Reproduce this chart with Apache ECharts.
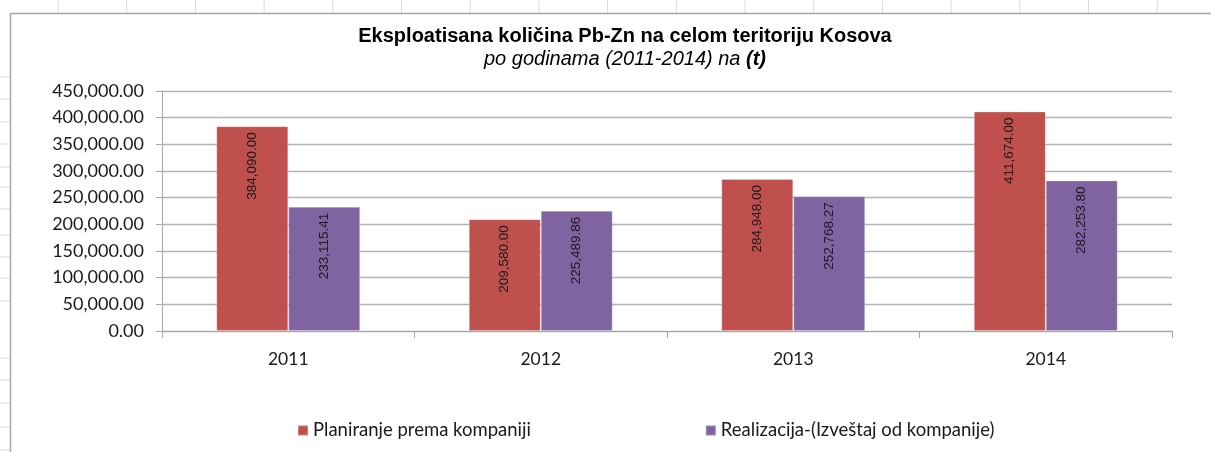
<!DOCTYPE html>
<html>
<head>
<meta charset="utf-8">
<script src="https://cdn.jsdelivr.net/npm/echarts@6/dist/echarts.min.js"></script>
<style>
html,body{margin:0;padding:0;background:#fff;}
#chart{width:1211px;height:452px;}
</style>
</head>
<body>
<div id="chart"></div>
<script>
const categories = ['2011', '2012', '2013', '2014'];
const planiranje = [384090.00, 209580.00, 284948.00, 411674.00];
const realizacija = [233115.41, 225489.86, 252768.27, 282253.80];
const seriesNames = ['Planiranje prema kompaniji', 'Realizacija-(Izveštaj od kompanije)'];
const yTicks = { min: 0, max: 450000, interval: 50000 };

function fmt(v) {
  return Number(v).toLocaleString('en-US', { minimumFractionDigits: 2, maximumFractionDigits: 2 });
}

// decorative spreadsheet cell marks around the chart frame
const deco = [];
for (let k = 0; k < 18; k++) {
  const x = 58 + 68.7 * k;
  deco.push({ type: 'line', shape: { x1: x, y1: 0, x2: x, y2: 13 }, style: { stroke: '#d9d9d9', lineWidth: 1 }, silent: true });
}
const leftRows = [77, 99, 122, 144, 167, 187, 209, 235, 257, 278, 301, 358, 380, 403, 427, 450];
leftRows.forEach(y => {
  deco.push({ type: 'line', shape: { x1: 0, y1: y, x2: 10, y2: y }, style: { stroke: '#d9d9d9', lineWidth: 1 }, silent: true });
});
deco.push({ type: 'polyline', shape: { points: [[10.5, 460], [10.5, 13.5], [1215, 13.5]] }, style: { stroke: '#a6a6a6', lineWidth: 1.5, fill: null }, silent: true });

const labelStyle = {
  show: true,
  position: 'insideTop',
  rotate: 90,
  align: 'right',
  verticalAlign: 'middle',
  distance: 6,
  fontFamily: 'Liberation Sans, Arial, sans-serif',
  fontSize: 13.5,
  color: '#1a1a1a',
  formatter: p => fmt(p.value)
};

const chart = echarts.init(document.getElementById('chart'), null, { renderer: 'canvas' });
chart.setOption({
  backgroundColor: '#ffffff',
  animation: false,
  graphic: deco,
  title: {
    text: 'Eksploatisana količina Pb-Zn na celom teritoriju Kosova',
    subtext: '{i|po godinama (2011-2014) na }{b|(t)}',
    left: 625,
    textAlign: 'center',
    top: 26,
    itemGap: 3,
    padding: 0,
    textStyle: { fontFamily: 'Liberation Sans, Arial, sans-serif', fontWeight: 'bold', fontSize: 20, color: '#000' },
    subtextStyle: {
      fontFamily: 'Liberation Sans, Arial, sans-serif', fontSize: 20, color: '#000',
      rich: {
        i: { fontFamily: 'Liberation Sans, Arial, sans-serif', fontStyle: 'italic', fontSize: 20, color: '#000' },
        b: { fontFamily: 'Liberation Sans, Arial, sans-serif', fontStyle: 'italic', fontWeight: 'bold', fontSize: 20, color: '#000' }
      }
    }
  },
  legend: {
    data: seriesNames,
    left: 292,
    top: 416,
    icon: 'rect',
    itemWidth: 10,
    itemHeight: 10,
    itemGap: 174,
    textStyle: { fontFamily: 'Lato, sans-serif', fontSize: 18.5, color: '#1a1a1a' }
  },
  grid: { left: 162, right: 39, top: 91, height: 240, containLabel: false },
  xAxis: {
    type: 'category',
    data: categories,
    axisLine: { lineStyle: { color: '#a6a6a6', width: 1 } },
    axisTick: { show: true, length: 7, lineStyle: { color: '#a6a6a6' }, alignWithLabel: false },
    axisLabel: { fontFamily: 'Lato, sans-serif', fontSize: 17.5, color: '#1a1a1a', margin: 19 }
  },
  yAxis: {
    type: 'value',
    min: yTicks.min,
    max: yTicks.max,
    interval: yTicks.interval,
    axisLine: { show: true, lineStyle: { color: '#a6a6a6' } },
    axisTick: { show: true, length: 6, lineStyle: { color: '#a6a6a6' } },
    splitLine: { lineStyle: { color: '#b3b3b3', width: 1.3 } },
    axisLabel: { fontFamily: 'Lato, sans-serif', fontSize: 18, color: '#1a1a1a', margin: 18, formatter: v => fmt(v) }
  },
  series: [
    {
      name: seriesNames[0], type: 'bar', data: planiranje,
      barGap: '0%', barCategoryGap: '43%',
      itemStyle: { color: '#C0504D', borderColor: 'rgba(255,255,255,0.25)', borderWidth: 1 },
      label: labelStyle
    },
    {
      name: seriesNames[1], type: 'bar', data: realizacija,
      barGap: '0%', barCategoryGap: '43%',
      itemStyle: { color: '#8064A2', borderColor: 'rgba(255,255,255,0.25)', borderWidth: 1 },
      label: labelStyle
    }
  ]
});
</script>
</body>
</html>
